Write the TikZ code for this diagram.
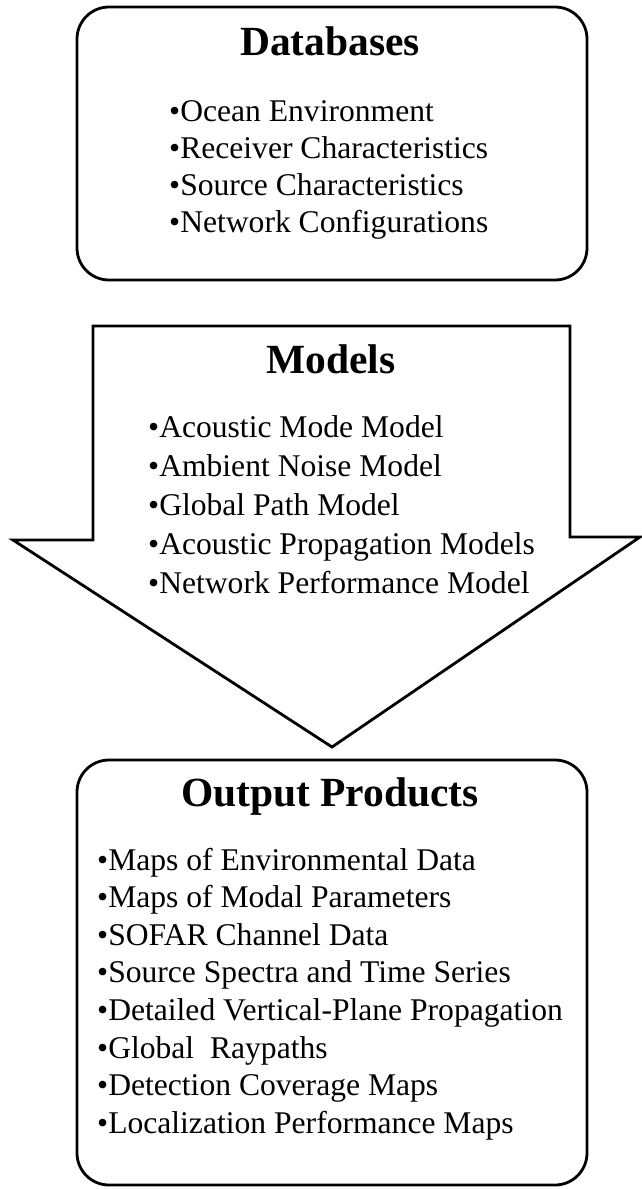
\documentclass[tikz,border=0pt]{standalone}
\usepackage{fontspec}
\setmainfont{Liberation Serif}
\tikzset{
  box/.style={draw,line width=2.8pt,rounded corners=32pt,inner sep=0pt},
  head/.style={inner sep=0pt,anchor=base,font=\fontsize{41.5}{45}\selectfont\bfseries},
  item/.style={inner sep=0pt,anchor=base west,font=\fontsize{31.6}{36}\selectfont}
}

\begin{document}
\begin{tikzpicture}[x=1pt,y=-1pt]
      \useasboundingbox (0,0) rectangle (641,1189);

      % data going in
      \node[box,minimum width=510pt,minimum height=273pt] (DB) at (332,143.5) {};
      \node[head] (DBt) at (330,55) {Databases};
      \node[item] (DB1) at (169,121) {\textbullet Ocean Environment};
      \node[item] (DB2) at (169,158) {\textbullet Receiver Characteristics};
      \node[item] (DB3) at (169,195) {\textbullet Source Characteristics};
      \node[item] (DB4) at (169,232) {\textbullet Network Configurations};

      % the big downward arrow
      \draw[line width=2.8pt,line join=miter] (93,326) -- (570,326) -- (570,537) -- (640,537)
        -- (332,747) -- (13,540) -- (93,540) -- cycle;
      \node[head] (Mt) at (331,373) {Models};
      \node[item] (M1) at (148,437) {\textbullet Acoustic Mode Model};
      \node[item] (M2) at (148,476) {\textbullet Ambient Noise Model};
      \node[item] (M3) at (148,515) {\textbullet Global Path Model};
      \node[item] (M4) at (148,554) {\textbullet Acoustic Propagation Models};
      \node[item] (M5) at (148,593) {\textbullet Network Performance Model};

      % what comes out
      \node[box,minimum width=510pt,minimum height=425pt] (OP) at (332,972.5) {};
      \node[head] (OPt) at (330,806) {Output Products};
      \node[item] (OP1) at (97,870) {\textbullet Maps of Environmental Data};
      \node[item] (OP2) at (97,907.6) {\textbullet Maps of Modal Parameters};
      \node[item] (OP3) at (97,945.2) {\textbullet SOFAR Channel Data};
      \node[item] (OP4) at (97,982.8) {\textbullet Source Spectra and Time Series};
      \node[item] (OP5) at (97,1020.4) {\textbullet Detailed Vertical-Plane Propagation};
      \node[item] (OP6) at (97,1058) {\textbullet Global\ \ Raypaths};
      \node[item] (OP7) at (97,1095.6) {\textbullet Detection Coverage Maps};
      \node[item] (OP8) at (97,1133.2) {\textbullet Localization Performance Maps};
    \end{tikzpicture}
\end{document}
